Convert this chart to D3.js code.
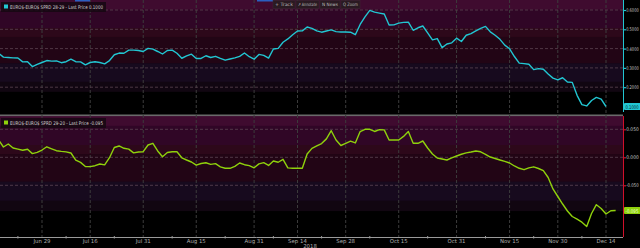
<!DOCTYPE html>
<html><head><meta charset="utf-8">
<script src="https://cdn.jsdelivr.net/npm/d3@7"></script>
<style>html,body{margin:0;padding:0;background:#000;overflow:hidden}svg{display:block}text{font-family:"DejaVu Sans",sans-serif}</style>
</head><body><svg id="c" width="640" height="248"></svg>
<script>
// ---------------- DATA ----------------
const firstTradingDay = "2018-06-18";
const marketHolidays = ["2018-07-04", "2018-09-03", "2018-11-22"];
const seriesNames = ["EURO$-EURO$ SPRD 28-29", "EURO$-EURO$ SPRD 29-20"];
const lastPriceLabels = ["0.1000", "-0.095"];
// daily closes, one per trading day starting at firstTradingDay
const spread2829 = [
 0.375,0.356,0.354,0.352,0.351,0.331,0.332,0.307,0.318,
 0.328,0.338,0.335,0.336,0.327,0.332,0.345,0.332,0.331,0.316,
 0.328,0.332,0.328,0.321,0.338,0.368,0.377,0.376,0.392,0.392,
 0.390,0.385,0.401,0.397,0.385,0.372,0.390,0.392,0.376,0.350,
 0.362,0.371,0.349,0.349,0.363,0.354,0.360,0.349,0.340,0.346,
 0.352,0.360,0.377,0.358,0.345,0.370,0.365,0.351,0.398,0.401,
 0.433,0.450,0.472,0.491,0.492,0.512,0.505,0.492,0.485,0.491,
 0.497,0.488,0.486,0.486,0.485,0.472,0.525,0.564,0.598,0.589,
 0.584,0.579,0.522,0.523,0.532,0.536,0.537,0.495,0.508,0.517,
 0.481,0.445,0.452,0.405,0.424,0.430,0.454,0.437,0.469,0.478,
 0.492,0.505,0.515,0.487,0.469,0.448,0.418,0.399,0.359,0.325,
 0.322,0.319,0.291,0.296,0.293,0.268,0.247,0.238,0.249,0.227,
 0.225,0.158,0.110,0.103,0.131,0.147,0.138,0.100
];
const spread2920 = [
 0.0309,0.0184,0.0238,0.0166,0.0145,0.0125,0.0143,0.0066,0.0089,
 0.0130,0.0188,0.0152,0.0118,0.0105,0.0096,0.0077,-0.0052,-0.0091,-0.0163,
 -0.0166,-0.0150,-0.0120,-0.0136,-0.0007,0.0175,0.0202,0.0161,0.0145,0.0079,
 0.0095,0.0100,0.0220,0.0250,0.0113,0.0011,0.0086,0.0100,0.0100,-0.0009,
 -0.0048,-0.0084,-0.0141,-0.0111,-0.0098,-0.0127,-0.0113,-0.0171,-0.0196,-0.0196,
 -0.0161,-0.0102,-0.0132,-0.0148,-0.0188,-0.0118,-0.0096,-0.0145,-0.0066,-0.0088,
 -0.0036,-0.0189,-0.0196,-0.0196,-0.0196,0.0059,0.0159,0.0202,0.0246,0.0329,
 0.0475,0.0309,0.0211,0.0248,0.0289,0.0257,0.0459,0.0500,0.0500,0.0461,
 0.0495,0.0489,0.0309,0.0309,0.0309,0.0373,0.0459,0.0250,0.0250,0.0291,
 0.0166,0.0059,-0.0013,-0.0030,-0.0048,-0.0009,0.0023,0.0054,0.0080,0.0095,
 0.0113,0.0098,0.0054,0.0005,-0.0021,-0.0048,-0.0073,-0.0102,-0.0155,-0.0196,
 -0.0221,-0.0188,-0.0170,-0.0200,-0.0238,-0.0361,-0.0566,-0.0700,-0.0834,-0.0959,
 -0.1057,-0.1105,-0.1159,-0.1236,-0.1004,-0.0846,-0.0914,-0.1013,-0.0955,-0.0950
];
const tickDates = ["2018-06-29","2018-07-16","2018-07-31","2018-08-15","2018-08-31","2018-09-14",
                   "2018-09-28","2018-10-15","2018-10-31","2018-11-15","2018-11-30","2018-12-14"];
const tickLabels = ["Jun 29","Jul 16","Jul 31","Aug 15","Aug 31","Sep 14",
                    "Sep 28","Oct 15","Oct 31","Nov 15","Nov 30","Dec 14"];
const minorTickDates = ["2018-06-22","2018-07-09","2018-07-23","2018-08-08","2018-08-23","2018-09-07",
                        "2018-09-21","2018-10-05","2018-10-23","2018-11-08","2018-11-23","2018-12-07"];
const yearLabel = "2018";
const topTicks = [0.6, 0.5, 0.4, 0.3, 0.2];
const bottomTicks = [0.05, 0, -0.05];
const toolbarItems = ["+ Track", "\u2197 Annotate", "N News", "Q Zoom"];

// ---------------- CALENDAR ----------------
const parse = d3.timeParse("%Y-%m-%d");
const fmt = d3.timeFormat("%Y-%m-%d");
const hol = new Set(marketHolidays);
const tradingDays = d3.timeDay.range(parse(firstTradingDay), parse("2019-01-01"))
  .filter(d => d.getDay() !== 0 && d.getDay() !== 6 && !hol.has(fmt(d)));
const idxOf = {};
tradingDays.forEach((d, i) => idxOf[fmt(d)] = i);
const dayIndex = s => idxOf[s];

// ---------------- LAYOUT ----------------
const svg = d3.select("#c");
const W = 640, axisX = 623, axisY = 237;
const panels = [
  {top: 0, bottom: 112, color: "#22c6d2", axisColor: "#22c6d2", data: spread2829, ticks: topTicks,
   domain: [0.1, 0.6], range: [106.5, 10], f: d => d.toFixed(4), name: seriesNames[0], last: lastPriceLabels[0], lastText: "#04262a"},
  {top: 116, bottom: 232, color: "#8fd10c", axisColor: "#d0102a", data: spread2920, ticks: bottomTicks,
   domain: [-0.1, 0.05], range: [213.3, 129.3], f: d => d.toFixed(3), name: seriesNames[1], last: lastPriceLabels[1], lastText: "#eaffd0"}
];

const x = d3.scaleLinear()
  .domain([dayIndex(tickDates[0]), dayIndex(tickDates[tickDates.length - 1])])
  .range([42, 606]);

svg.append("rect").attr("width", W).attr("height", 248).attr("fill", "#000");

const bandStops = [0, 0.085, 0.25, 0.33, 0.565, 0.73, 0.82, 1];
const bandColors = ["#3f0b2f", "#300626", "#2d081a", "#220515", "#170a1e", "#110611", "#000000"];

panels.forEach(p => {
  const h = p.bottom - p.top;
  bandColors.forEach((c, i) => {
    svg.append("rect").attr("x", 0).attr("width", axisX)
      .attr("y", p.top + bandStops[i] * h).attr("height", (bandStops[i + 1] - bandStops[i]) * h + 0.5)
      .attr("fill", c);
  });
});

// separator between panels
svg.append("rect").attr("x", 0).attr("y", 114.5).attr("width", axisX).attr("height", 1.6).attr("fill", "#6a6a6a");

// vertical gridlines
svg.append("g").selectAll("line").data(tickDates).join("line")
  .attr("x1", d => x(dayIndex(d))).attr("x2", d => x(dayIndex(d)))
  .attr("y1", 0).attr("y2", axisY)
  .attr("stroke", "#3c3c3c").attr("stroke-width", 1).attr("stroke-dasharray", "3,2");

panels.forEach(p => {
  const y = d3.scaleLinear().domain(p.domain).range(p.range);
  // horizontal gridlines
  svg.append("g").selectAll("line").data(p.ticks).join("line")
    .attr("x1", 0).attr("x2", axisX)
    .attr("y1", d => y(d)).attr("y2", d => y(d))
    .attr("stroke", "#5c4452").attr("stroke-width", 0.8).attr("stroke-dasharray", "3,2");

  // series line
  const line = d3.line().x((d, i) => x(i)).y(d => y(d));
  svg.append("path").datum(p.data).attr("d", line)
    .attr("fill", "none").attr("stroke", p.color).attr("stroke-width", 1.4)
    .attr("stroke-linejoin", "round");

  // right axis
  const ax = d3.axisRight(y).tickValues(p.ticks).tickSize(3).tickPadding(1).tickFormat(p.f);
  const g = svg.append("g").attr("transform", `translate(${axisX},0)`).call(ax);
  g.select(".domain").remove();
  g.selectAll(".tick line").attr("stroke", p.axisColor).attr("stroke-width", 1.2);
  g.selectAll(".tick text").attr("fill", "#c8c8c8").attr("font-size", 5).attr("x", 3.2)
    .attr("textLength", 12.5).attr("lengthAdjust", "spacingAndGlyphs");
  svg.append("line").attr("x1", axisX + 0.5).attr("x2", axisX + 0.5)
    .attr("y1", p.top).attr("y2", p === panels[0] ? p.bottom : axisY)
    .attr("stroke", p.axisColor).attr("stroke-width", 1);

  // last price tag
  const lastVal = p.data[p.data.length - 1];
  svg.append("rect").attr("x", axisX + 1).attr("y", y(lastVal) - 3.6).attr("width", 17).attr("height", 7.2)
    .attr("rx", 1).attr("fill", p.color);
  svg.append("text").attr("x", axisX + 2.5).attr("y", y(lastVal) + 2).attr("font-size", 5)
    .attr("fill", p.lastText).attr("textLength", 13).attr("lengthAdjust", "spacingAndGlyphs").text(p.last);

  // legend
  const ly = p.top + 2;
  svg.append("rect").attr("x", 1).attr("y", ly).attr("width", 105).attr("height", 10)
    .attr("fill", "#150812").attr("opacity", 0.85);
  svg.append("rect").attr("x", 4).attr("y", ly + 2.5).attr("width", 4).attr("height", 4).attr("fill", p.color);
  svg.append("text").attr("x", 10).attr("y", ly + 6.6).attr("font-size", 5.2).attr("fill", "#cfcfcf")
    .attr("textLength", 93).attr("lengthAdjust", "spacingAndGlyphs")
    .text(`${p.name} - Last Price ${p.last}`);
});

// x axis
svg.append("line").attr("x1", 0).attr("x2", axisX).attr("y1", axisY + 0.5).attr("y2", axisY + 0.5)
  .attr("stroke", "#9a9a9a").attr("stroke-width", 1);
svg.append("g").selectAll("line").data(minorTickDates).join("line")
  .attr("x1", d => x(dayIndex(d))).attr("x2", d => x(dayIndex(d)))
  .attr("y1", axisY - 1).attr("y2", axisY + 1.5).attr("stroke", "#9a9a9a");
svg.append("g").selectAll("text").data(tickLabels).join("text")
  .attr("x", (d, i) => x(dayIndex(tickDates[i]))).attr("y", 242.5)
  .attr("text-anchor", "middle").attr("font-size", 5.4).attr("fill", "#b0b0b0").text(d => d);
svg.append("text").attr("x", 310).attr("y", 248).attr("text-anchor", "middle")
  .attr("font-size", 5.4).attr("fill", "#b0b0b0").text(yearLabel);

// toolbar
svg.append("rect").attr("x", 75).attr("y", 0).attr("width", 15).attr("height", 1.5).attr("fill", "#2a5fc0");
svg.append("rect").attr("x", 257).attr("y", 0).attr("width", 16).attr("height", 1.5).attr("fill", "#2a5fc0");
const tbW = [23, 24, 21, 20];
let tx = 273;
toolbarItems.forEach((t, i) => {
  svg.append("rect").attr("x", tx).attr("y", 0.5).attr("width", tbW[i] - 1).attr("height", 8)
    .attr("fill", "#2a1a22").attr("stroke", "#3a2a32").attr("stroke-width", 0.5);
  svg.append("text").attr("x", tx + 2).attr("y", 6.3).attr("font-size", 4.6).attr("fill", "#bdbdbd")
    .attr("textLength", tbW[i] - 5).attr("lengthAdjust", "spacingAndGlyphs").text(t);
  tx += tbW[i];
});
</script></body></html>
